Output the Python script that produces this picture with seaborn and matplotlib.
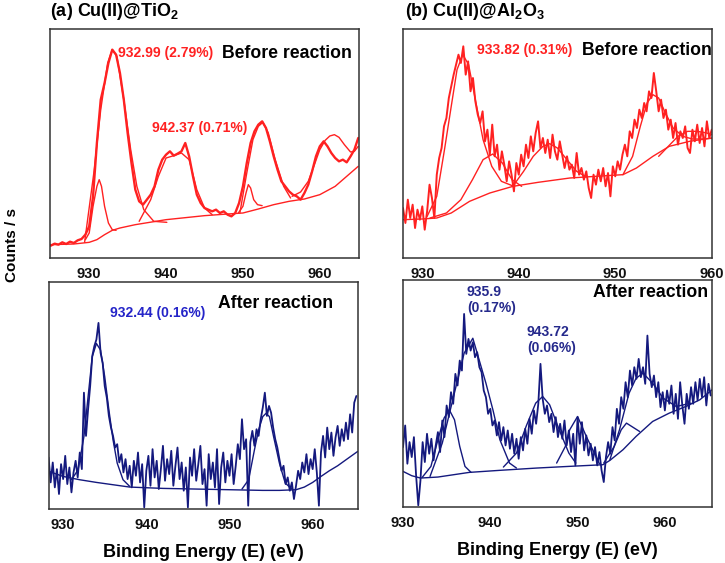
import numpy as np
import pandas as pd
import matplotlib
matplotlib.use("Agg")
import matplotlib.pyplot as plt
import seaborn as sns

# ---------------- data (arbitrary counts) ----------------
# (a) Cu(II)@TiO2, before reaction: raw spectrum, 0.5 eV steps from 925.0 eV
a_before_start, a_before_step = 925.0, 0.5
a_before_counts = [
    3.7, 4.3, 4.0, 4.7, 4.2, 4.9, 4.5, 5.3, 5.7, 7.0,          # 925-929.5
    9.5, 18.5, 34.5, 47.5, 52.5, 58.5, 62.5, 61.0, 55.5, 47.5,  # 930-934.5
    37.5, 28.5, 20.5, 17.0, 16.0, 17.5, 19.0, 21.5, 26.5, 29.5, # 935-939.5
    31.0, 32.0, 30.7, 31.3, 32.0, 34.5, 30.5, 24.5, 19.0, 16.5, # 940-944.5
    15.0, 14.5, 14.0, 14.5, 13.5, 14.0, 13.0, 12.5, 13.5, 16.5, # 945-949.5
    21.5, 28.5, 34.5, 38.0, 40.0, 41.0, 39.0, 35.0, 30.5, 26.5, # 950-954.5
    23.0, 21.5, 20.0, 19.0, 18.5, 17.5, 19.5, 22.0, 26.0, 30.5, # 955-959.5
    33.5, 35.0, 33.5, 31.5, 30.0, 29.0, 29.5, 28.7, 30.5, 32.5, # 960-964.5
    36.0,
]
a_before_bg_e = [925, 928, 930, 931, 932, 933, 934, 936, 940, 945, 948, 950, 952, 954, 956, 958, 960, 962, 964, 965]
a_before_bg_i = [4.0, 4.2, 4.7, 5.5, 7.0, 8.3, 9.0, 10.0, 11.5, 12.7, 13.2, 13.5, 14.7, 16.0, 17.0, 17.7, 19.0, 21.5, 25.5, 27.5]
a_before_p931_e = [929.5, 930.0, 930.5, 931.0, 931.3, 931.6, 932.0, 932.5, 933.0, 933.5]
a_before_p931_i = [5.5, 7.5, 15.5, 21.5, 23.5, 21.5, 15.5, 10.5, 8.5, 8.3]
a_before_p933_e = [929.4, 930.6, 931.5, 932.4, 933.0, 933.6, 934.5, 935.4, 936.2, 937.1, 938.4, 940.1]
a_before_p933_i = [4.7, 25.5, 44.5, 58.5, 62.5, 60.5, 47.5, 32.5, 21.5, 14.5, 11.0, 10.7]
a_before_sat_e = [936.5, 938.0, 939.0, 940.0, 941.0, 942.0, 943.0, 944.0, 945.0, 946.0]
a_before_sat_i = [11.0, 17.5, 24.5, 30.0, 30.7, 31.5, 29.5, 20.5, 15.0, 13.0]
a_before_p951_e = [949.4, 950.0, 950.4, 950.7, 951.0, 951.4, 951.9, 952.5]
a_before_p951_i = [13.5, 15.5, 19.5, 22.0, 21.0, 17.5, 16.0, 15.7]
a_before_p952_e = [949.6, 950.5, 951.3, 952.0, 952.6, 953.3, 954.2, 955.3, 956.2]
a_before_p952_i = [13.5, 25.5, 35.5, 39.5, 40.7, 37.5, 29.5, 21.5, 18.0]
a_before_p961_e = [956.4, 957.5, 958.5, 959.3, 960.0, 960.7, 961.3, 961.9, 962.5, 963.2, 964.0, 964.5, 965.0]
a_before_p961_i = [18.5, 19.8, 23.0, 28.0, 32.5, 35.3, 36.6, 37.0, 36.2, 34.0, 31.8, 32.0, 33.5]

# (a) Cu(II)@TiO2, after reaction: raw spectrum, 0.25 eV steps from 928.25 eV
a_after_start, a_after_step = 928.25, 0.25
a_after_counts = [
    15.5, 8.0, 14.0, 6.5,   12.0, 4.5, 13.5, 9.0,   16.0, 7.5, 12.5, 5.0,
    11.0, 14.5, 9.5, 17.0,  12.0, 35.0, 22.0, 30.0, 37.0, 46.0, 49.0, 51.0,
    56.0, 47.0, 44.0, 37.0, 33.5, 28.0, 24.5, 22.0, 18.5, 19.5, 14.0, 16.5,
    11.0, 15.0, 9.0, 13.0,  6.5, 14.5, 10.0, 17.0,  8.0, 13.5, 0.5, 11.5,
    16.0, 7.0, 18.0, 9.5,   14.5, 6.0, 12.0, 19.0,  8.5, 15.0, 10.5, 17.5,
    7.0, 13.0, 18.5, 9.0,   14.0, 5.5, 12.5, 0.5,   15.5, 10.0, 18.0, 8.5,
    13.5, 19.0, 7.5, 12.0,  1.0, 16.5, 9.0, 14.0,   6.5, 18.0, 1.5, 12.5,
    17.0, 8.0, 14.5, 10.0,  16.5, 7.5, 13.0, 19.5,  15.0, 27.0, 18.0, 21.0,
    1.0, 20.0, 23.5, 19.0,  24.0, 22.0, 27.0, 30.5,  35.0, 28.0, 31.0, 29.0,
    24.5, 21.0, 18.5, 15.0, 11.5, 13.0, 7.5, 9.5,   5.5, 8.0, 3.0, 7.0,
    11.5, 9.0, 14.0, 11.0,  16.5, 10.5, 15.0, 12.0,  18.0, 11.0, 1.0, 17.0,
    22.0, 15.5, 24.5, 18.0, 23.0, 16.0, 21.5, 25.0,  19.0, 24.0, 20.5, 26.0,
    21.0, 28.5, 23.0, 32.0, 34.0,
]
a_after_bg_e = [928.3, 930, 932, 934, 936, 938, 942, 946, 950, 954, 956, 958, 959, 960, 961, 962, 963, 964, 965.4]
a_after_bg_i = [11.3, 9.8, 8.8, 8.0, 7.3, 6.6, 6.2, 6.0, 5.8, 5.6, 5.6, 5.8, 6.6, 8.0, 9.8, 11.5, 13.0, 14.8, 17.3]
a_after_p934_e = [931.0, 931.8, 932.5, 933.0, 933.5, 934.0, 934.5, 935.0, 935.5, 936.0, 936.5, 937.2, 938.0]
a_after_p934_i = [8.8, 11.8, 21.8, 33.8, 45.8, 49.8, 47.8, 39.8, 29.8, 20.8, 13.8, 8.8, 6.8]
a_after_p954_e = [951.5, 952.3, 953.0, 953.5, 954.0, 954.4, 954.8, 955.3, 956.0, 956.7, 957.5]
a_after_p954_i = [6.0, 8.8, 17.8, 23.8, 27.8, 28.8, 27.8, 21.8, 13.8, 7.8, 6.0]

# (b) Cu(II)@Al2O3, before reaction: raw spectrum, 0.25 eV steps from 928.0 eV
b_before_start, b_before_step = 928.0, 0.25
b_before_counts = [
    15.0, 10.5, 17.5, 12.0, 16.0, 9.0, 14.5, 11.5,  15.5, 8.5, 14.0, 22.0,
    18.0, 12.0, 25.0, 30.0, 33.0, 39.5, 42.0, 48.0,  51.5, 55.0, 58.0, 61.0,
    58.5, 63.5, 55.0, 59.0, 50.0, 54.0, 47.0, 43.0,  40.5, 44.0, 35.0, 38.5,
    31.0, 40.0, 30.5, 34.0, 26.5, 32.0, 28.0, 23.0,  29.0, 25.0, 20.0, 28.5,
    25.0, 31.0, 27.5, 34.0, 30.0, 36.5, 32.0, 37.5,  41.0, 33.0, 36.0, 31.5,
    35.5, 30.0, 37.0, 32.0, 29.5, 35.0, 31.0, 27.0,  30.5, 26.5, 28.0, 24.0,
    31.5, 25.0, 27.0, 23.5, 26.0, 21.0, 18.0, 25.0,  22.0, 26.5, 23.0, 27.0,
    21.5, 25.5, 18.5, 27.5, 24.5, 29.0, 26.5, 31.0,  34.0, 30.5, 38.0, 36.0,
    41.5, 39.0, 44.5, 42.0, 46.5, 44.0, 50.0, 48.0,  55.5, 50.0, 44.0, 47.5,
    42.0, 44.5, 38.5, 41.5, 36.0, 40.5, 34.0, 38.0,  36.0, 39.5, 33.0, 31.5,
    38.5, 35.0, 40.0, 34.5, 39.0, 33.5, 41.0, 36.0,  38.5,
]
b_before_bg_e = [928, 930, 931.5, 933, 934.9, 937, 939.4, 942, 945.3, 948, 950.8, 952.2, 953.9, 955.6, 957.7, 960]
b_before_bg_i = [11.5, 11.7, 12.0, 13.5, 17.0, 19.5, 21.5, 22.7, 24.0, 24.5, 25.0, 27.0, 30.5, 33.5, 35.0, 36.0]
b_before_p937_e = [930.8, 932.5, 934.0, 935.2, 936.3, 937.3, 938.3, 939.3, 940.3]
b_before_p937_i = [12.0, 13.5, 17.5, 23.5, 29.5, 31.2, 28.5, 23.5, 21.5]
b_before_p934_e = [930.5, 931.5, 932.3, 933.0, 933.6, 934.2, 934.8, 935.5, 936.3, 937.2, 938.2, 939.5]
b_before_p934_i = [12.5, 18.5, 32.5, 45.5, 56.5, 61.0, 58.0, 47.5, 35.5, 27.5, 23.0, 21.5]
b_before_sat_e = [939.5, 940.5, 941.5, 942.5, 943.2, 944.0, 945.0, 946.0, 947.0]
b_before_sat_i = [22.0, 26.0, 30.5, 33.5, 34.3, 33.0, 29.5, 26.0, 24.3]
b_before_p954_e = [950.8, 951.8, 952.6, 953.3, 953.9, 954.5, 955.2, 956.0, 957.0, 958.0, 959.0, 960.0]
b_before_p954_i = [25.0, 30.5, 39.5, 46.5, 49.0, 48.0, 43.5, 39.0, 36.5, 35.7, 35.7, 35.9]
b_before_p957_e = [954.5, 955.5, 956.5, 957.5, 958.5, 959.5, 960.0]
b_before_p957_i = [30.5, 33.5, 36.5, 38.0, 38.0, 37.5, 37.0]

# (b) Cu(II)@Al2O3, after reaction: raw spectrum, 0.25 eV steps from 930.0 eV
b_after_start, b_after_step = 930.0, 0.25
b_after_counts = [
    18.0, 24.5, 13.0, 19.5, 15.0, 21.0, 9.5, 0.5,    8.0, 19.5, 13.5, 22.0,
    16.0, 20.5, 14.0, 18.5, 22.5, 16.5, 26.0, 21.0,  30.5, 27.0, 34.5, 31.0,
    40.0, 36.5, 44.0, 41.0, 58.0, 46.0, 50.5, 47.0,  49.5, 45.0, 46.5, 42.0,
    40.5, 35.0, 33.0, 28.0, 29.5, 24.5, 26.0, 21.5,  25.5, 20.0, 24.0, 18.5,
    23.0, 17.5, 22.0, 16.0, 20.5, 14.5, 21.0, 17.0,  23.5, 19.0, 26.5, 22.0,
    29.0, 25.0, 31.0, 43.0, 32.5, 28.0, 30.5, 25.5,  28.0, 22.5, 27.0, 21.0,
    25.0, 20.5, 26.0, 18.5, 23.0, 16.5, 22.0, 12.5,  27.0, 19.0, 25.5, 17.0,
    21.5, 15.5, 19.0, 14.0, 18.0, 12.5, 16.5, 11.0,  7.5, 15.0, 19.5, 16.0,
    24.0, 20.0, 29.5, 25.0, 33.0, 29.5, 37.5, 33.0,  41.0, 36.5, 42.0, 38.5,
    44.5, 39.0, 42.0, 37.0, 51.5, 40.0, 36.0, 39.5,  33.0, 37.5, 30.0, 34.5,
    29.0, 35.0, 31.0, 36.5, 28.0, 34.0, 26.5, 37.5,  30.5, 25.0, 34.0, 29.5,
    36.0, 31.0, 37.5, 32.0, 38.5, 33.0, 39.0, 30.5,  37.0, 33.5,
]
b_after_bg_e = [930, 931, 932, 934, 937.6, 941, 945.3, 949, 952.9, 953.7, 955.2, 956.7, 958.6, 960.5, 962.4, 964, 965.4]
b_after_bg_i = [10.7, 9.4, 8.7, 9.0, 10.4, 11.0, 11.7, 12.2, 12.7, 14.0, 17.2, 21.2, 25.7, 28.2, 30.2, 32.2, 35.2]
b_after_p935_e = [932.2, 933.2, 934.0, 934.7, 935.3, 935.9, 936.5, 937.1, 937.8]
b_after_p935_i = [8.9, 12.2, 20.2, 26.7, 29.2, 26.2, 18.2, 12.2, 10.4]
b_after_p938_e = [933.1, 934.5, 935.7, 937.0, 938.0, 939.5, 940.3, 941.1, 942.2, 943.0]
b_after_p938_i = [9.2, 19.2, 32.2, 46.2, 50.7, 37.2, 29.2, 20.2, 13.2, 11.7]
b_after_p946_e = [941.5, 943.0, 944.1, 945.2, 946.0, 946.8, 947.9, 949.0, 949.8]
b_after_p946_i = [12.0, 16.2, 24.2, 31.2, 33.2, 30.7, 23.2, 16.2, 13.2]
b_after_p950_e = [947.6, 948.6, 949.1, 950.0, 951.0, 952.5]
b_after_p950_i = [13.2, 18.2, 23.2, 27.2, 21.2, 13.0]
b_after_p955_e = [953.0, 954.2, 955.0, 955.6, 956.2, 957.1]
b_after_p955_i = [13.2, 18.2, 23.2, 25.2, 24.2, 22.7]
b_after_p957_e = [953.7, 954.8, 955.9, 956.7, 957.5, 958.6, 959.8, 961.3, 963.0]
b_after_p957_i = [14.2, 23.2, 34.2, 38.7, 40.2, 37.2, 32.7, 30.2, 31.2]

xticks = [930, 940, 950, 960]

# ---------------- style ----------------
sns.set_style("white")
plt.rcParams["font.family"] = ["Liberation Sans", "DejaVu Sans"]
plt.rcParams["font.weight"] = "bold"
plt.rcParams["text.color"] = "black"
plt.rcParams["axes.labelcolor"] = "black"
plt.rcParams["mathtext.fontset"] = "custom"
plt.rcParams["mathtext.bf"] = "Liberation Sans:bold"
plt.rcParams["mathtext.rm"] = "Liberation Sans:bold"
plt.rcParams["mathtext.default"] = "bf"

RED = "#ff2121"
NAVY = "#14197e"

W, H = 725, 563
fig = plt.figure(figsize=(W / 100, H / 100), dpi=100)


def box(x0, y0, x1, y1):
    return [x0 / W, 1 - y1 / H, (x1 - x0) / W, (y1 - y0) / H]


ax_a1 = fig.add_axes(box(50, 29, 359, 258))
ax_a2 = fig.add_axes(box(49, 282, 358, 509))
ax_b1 = fig.add_axes(box(403, 29, 712, 258))
ax_b2 = fig.add_axes(box(403, 280, 712, 507))


def draw(ax, start, step, counts, comps, color, xlim, ylim, raw_lw):
    raw = pd.DataFrame({"E": start + step * np.arange(len(counts)), "I": counts})
    for e, i in comps:
        sns.lineplot(x=e, y=i, ax=ax, color=color, lw=1.0, estimator=None)
    sns.lineplot(data=raw, x="E", y="I", ax=ax, color=color, lw=raw_lw, estimator=None)
    ax.set_xlim(*xlim)
    ax.set_ylim(*ylim)
    ax.set_xticks(xticks)
    ax.set_yticks([])
    ax.set_xlabel("")
    ax.set_ylabel("")
    ax.tick_params(axis="x", direction="out", length=3.5, width=1, color="#333333",
                   pad=3, labelsize=10.5, labelcolor="#111111")
    for lab in ax.get_xticklabels():
        lab.set_fontweight("bold")
    for s in ax.spines.values():
        s.set_color("#333333")
        s.set_linewidth(1.1)


draw(ax_a1, a_before_start, a_before_step, a_before_counts,
     [(a_before_bg_e, a_before_bg_i), (a_before_p931_e, a_before_p931_i),
      (a_before_p933_e, a_before_p933_i), (a_before_sat_e, a_before_sat_i),
      (a_before_p951_e, a_before_p951_i), (a_before_p952_e, a_before_p952_i),
      (a_before_p961_e, a_before_p961_i)],
     RED, (924.9, 965.1), (0, 68.7), 1.7)
draw(ax_a2, a_after_start, a_after_step, a_after_counts,
     [(a_after_bg_e, a_after_bg_i), (a_after_p934_e, a_after_p934_i),
      (a_after_p954_e, a_after_p954_i)],
     NAVY, (928.3, 965.45), (0, 68.3), 1.3)
draw(ax_b1, b_before_start, b_before_step, b_before_counts,
     [(b_before_bg_e, b_before_bg_i), (b_before_p937_e, b_before_p937_i),
      (b_before_p934_e, b_before_p934_i), (b_before_sat_e, b_before_sat_i),
      (b_before_p954_e, b_before_p954_i), (b_before_p957_e, b_before_p957_i)],
     RED, (928.0, 960.03), (0, 68.7), 1.4)
draw(ax_b2, b_after_start, b_after_step, b_after_counts,
     [(b_after_bg_e, b_after_bg_i), (b_after_p935_e, b_after_p935_i),
      (b_after_p938_e, b_after_p938_i), (b_after_p946_e, b_after_p946_i),
      (b_after_p950_e, b_after_p950_i), (b_after_p955_e, b_after_p955_i),
      (b_after_p957_e, b_after_p957_i)],
     NAVY, (930.0, 965.4), (0, 68.2), 1.3)

# ---------------- text ----------------
fig.text(50 / W, 1 - 12 / H, r"(a) Cu(II)@TiO$_2$", fontsize=13, fontweight="bold", va="center")
fig.text(405 / W, 1 - 12 / H, r"(b) Cu(II)@Al$_2$O$_3$", fontsize=13, fontweight="bold", va="center")
fig.text(12 / W, 1 - 245 / H, "Counts / s", rotation=90, fontsize=11, fontweight="bold",
         ha="center", va="center")

ax_a1.text(0.220, 0.895, "932.99 (2.79%)", transform=ax_a1.transAxes, color=RED,
           fontsize=10, fontweight="bold", va="center")
ax_a1.text(0.330, 0.568, "942.37 (0.71%)", transform=ax_a1.transAxes, color=RED,
           fontsize=10, fontweight="bold", va="center")
ax_a1.text(0.977, 0.895, "Before reaction", transform=ax_a1.transAxes, color="black",
           fontsize=12.7, fontweight="bold", va="center", ha="right")
ax_b1.text(0.239, 0.908, "933.82 (0.31%)", transform=ax_b1.transAxes, color=RED,
           fontsize=10, fontweight="bold", va="center")
ax_b1.text(1.0, 0.905, "Before reaction", transform=ax_b1.transAxes, color="black",
           fontsize=12.7, fontweight="bold", va="center", ha="right")
ax_a2.text(0.197, 0.863, "932.44 (0.16%)", transform=ax_a2.transAxes, color="#2424c8",
           fontsize=10, fontweight="bold", va="center")
ax_a2.text(0.919, 0.907, "After reaction", transform=ax_a2.transAxes, color="black",
           fontsize=12.7, fontweight="bold", va="center", ha="right")
ax_b2.text(0.207, 0.912, "935.9\n(0.17%)", transform=ax_b2.transAxes, color="#25298c",
           fontsize=10, fontweight="bold", va="center", linespacing=1.2)
ax_b2.text(0.401, 0.736, "943.72\n(0.06%)", transform=ax_b2.transAxes, color="#25298c",
           fontsize=10, fontweight="bold", va="center", linespacing=1.2)
ax_b2.text(0.987, 0.943, "After reaction", transform=ax_b2.transAxes, color="black",
           fontsize=12.7, fontweight="bold", va="center", ha="right")

for ax in (ax_a2, ax_b2):
    ax.set_xlabel("Binding Energy (E) (eV)", fontsize=13, fontweight="bold", color="black")
    ax.xaxis.set_label_coords(0.5, -0.155)

fig.savefig("out.png", dpi=100)
